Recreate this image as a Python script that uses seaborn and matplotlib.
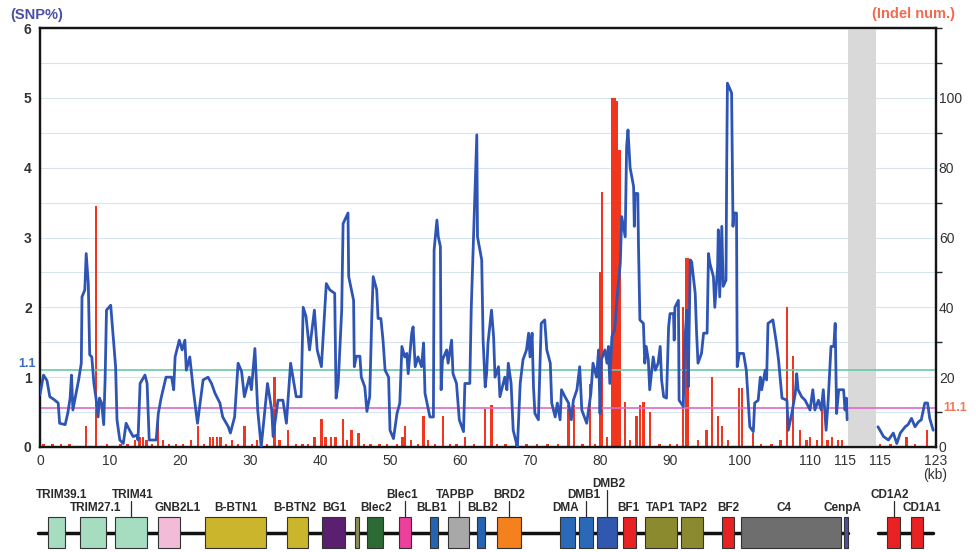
import numpy as np
import pandas as pd
import matplotlib
matplotlib.use("Agg")
import matplotlib.pyplot as plt
from matplotlib.ticker import MultipleLocator
import seaborn as sns

# positions are on the drawn axis (kb); a gap of 5 is put in after 115 kb
snp_pos_a = [0.0, 0.5, 1.0, 1.4, 2.0, 2.6, 2.8, 3.6, 4.0, 4.3, 4.5, 4.7, 5.5, 5.9, 6.0, 6.4, 6.6, 6.9,
             7.1, 7.4, 7.7, 8.0, 8.3, 8.5, 8.8, 9.1, 9.3, 9.5, 10.1, 10.8, 11.0, 11.4, 11.9, 12.3,
             12.8, 13.3, 13.9, 14.0, 14.3, 15.0, 15.3, 15.6, 16.6, 16.9, 17.3, 18.0, 18.8, 19.1,
             19.3, 19.9, 20.3, 20.7, 20.9, 21.4, 21.9, 22.5, 23.3, 24.0, 24.5, 25.0, 25.7, 26.1,
             26.9, 27.2, 27.8, 28.3, 28.8, 29.2, 29.9, 30.2, 30.7, 31.1, 31.6, 32.5, 33.1, 33.3,
             34.0, 34.7, 35.2, 35.8, 36.6, 37.3, 37.6, 38.0, 38.5, 39.2, 39.6, 40.2, 40.9, 41.4,
             42.1, 42.3, 42.6, 43.1, 43.3, 44.0, 44.1, 44.8, 44.9, 45.2, 45.7, 45.9, 46.4, 46.7,
             47.1, 47.4, 47.6, 48.1, 48.3, 48.7, 49.0, 49.3, 49.8, 50.0, 50.5, 51.0, 51.4, 51.7,
             52.1, 52.4, 52.6, 53.1, 53.3, 53.6, 54.0, 54.5, 54.8, 55.0, 55.7, 56.2, 56.3, 56.7,
             56.9, 57.2, 57.3, 57.5, 58.1, 58.3, 58.8, 59.0, 59.5, 59.9, 60.5, 60.7, 61.4, 61.6,
             61.9, 62.4, 62.5, 63.1, 63.3, 63.6, 63.8, 64.0, 64.5, 64.8, 65.0, 65.5, 65.7, 66.4,
             66.7, 66.9, 67.3, 67.6, 68.2, 68.6, 69.0, 69.5, 69.8, 70.0, 70.3, 70.5, 70.7, 71.2,
             71.6, 72.1, 72.4, 72.9, 73.1, 73.6, 73.9, 74.3, 74.5, 75.0, 75.5, 75.9, 76.2, 76.7,
             77.1, 77.4, 78.1, 78.7, 79.0, 79.5, 79.8, 80.0, 80.2, 80.7, 81.0, 81.2, 81.4, 81.7,
             82.1, 82.4, 82.9, 83.1, 83.6, 83.8, 84.0, 84.3, 84.8, 84.9, 85.0, 85.4, 85.5, 85.7,
             86.2, 86.4, 86.6, 86.9, 87.1, 87.6, 87.9, 88.3, 88.6, 88.8, 89.1, 89.5, 89.8, 90.0,
             90.5, 90.6, 90.7, 91.2, 91.3, 91.9, 92.1, 92.4, 92.6, 92.9, 93.1, 93.6, 93.8, 94.0,
             94.5, 94.8, 95.3, 95.5, 95.7, 96.2, 96.4, 96.8, 96.9, 97.1, 97.4, 97.6, 98.0, 98.1,
             98.2, 98.8, 99.0, 99.1, 99.5, 99.6, 99.9, 100.5, 100.9, 101.4, 101.9, 102.1, 102.6,
             102.9, 103.1, 103.6, 103.8, 104.0, 104.7, 105.2, 105.5, 106.0, 106.7, 106.9, 107.4,
             107.9, 108.1, 108.3, 108.8, 109.3, 110.0, 110.4, 110.7, 111.2, 111.6, 111.9, 112.3,
             112.6, 113.0, 113.4, 113.6, 113.8, 114.1, 114.8, 115.0, 115.2, 115.3]
snp_val_a = [0.75, 1.03, 0.95, 0.72, 0.68, 0.63, 0.34, 0.32, 0.50, 0.70, 1.03, 0.53, 0.95, 1.20, 2.15, 2.25, 2.77, 2.34,
             1.32, 1.29, 0.91, 0.70, 0.43, 0.70, 0.63, 0.32, 0.96, 1.96, 2.03, 1.15, 0.39, 0.10, 0.05, 0.34,
             0.24, 0.15, 0.17, 0.10, 0.91, 1.03, 0.91, 0.10, 0.10, 0.48, 0.70, 1.00, 1.00, 0.82,
             1.29, 1.53, 1.39, 1.53, 1.10, 1.29, 0.82, 0.34, 0.96, 1.00, 0.91, 0.77, 0.63, 0.43,
             0.29, 0.20, 0.43, 1.20, 1.08, 0.72, 1.00, 0.82, 1.41, 0.53, 0.00, 0.91, 0.53, 0.15,
             0.67, 0.67, 0.34, 1.20, 0.72, 0.72, 2.00, 1.87, 1.39, 1.96, 1.39, 1.15, 2.34, 2.25,
             2.20, 0.70, 0.91, 1.96, 3.20, 3.35, 2.44, 2.10, 1.15, 1.30, 1.30, 1.00, 0.86, 0.51,
             0.72, 1.87, 2.44, 2.25, 1.84, 1.84, 1.53, 1.10, 1.00, 0.24, 0.12, 0.48, 0.63, 1.44,
             1.29, 1.34, 1.05, 1.63, 1.72, 1.15, 1.29, 1.15, 1.49, 0.77, 0.43, 0.43, 2.82, 3.25,
             3.01, 2.87, 0.82, 1.25, 1.39, 1.20, 1.53, 1.05, 0.91, 0.39, 0.22, 0.91, 0.91, 1.96,
             2.92, 4.47, 3.01, 2.68, 1.53, 0.86, 1.05, 1.49, 1.96, 1.58, 1.00, 1.15, 0.72, 1.00,
             0.82, 1.20, 0.91, 0.24, 0.00, 0.91, 1.25, 1.39, 1.63, 1.29, 1.63, 0.86, 0.48, 0.39,
             1.77, 1.82, 1.39, 1.20, 0.63, 0.43, 0.63, 0.39, 0.82, 0.72, 0.63, 0.39, 0.67, 0.82,
             1.15, 0.53, 0.34, 0.77, 1.20, 1.00, 1.39, 0.48, 1.25, 1.39, 1.20, 1.44, 0.91, 1.58,
             1.68, 2.10, 2.63, 3.30, 3.01, 4.30, 4.54, 4.00, 3.73, 3.16, 3.63, 3.63, 2.87, 1.82,
             1.77, 1.20, 1.44, 1.25, 0.82, 1.29, 1.10, 1.20, 1.44, 0.96, 0.72, 0.70, 1.72, 1.91,
             1.91, 1.53, 2.00, 2.10, 0.67, 0.58, 1.49, 1.96, 0.86, 2.68, 2.65, 2.20, 1.63, 1.20,
             1.34, 1.63, 1.63, 2.77, 2.63, 2.44, 2.00, 2.58, 3.11, 2.15, 3.16, 2.30, 2.39, 4.02,
             5.21, 5.07, 3.16, 3.35, 3.35, 1.15, 1.34, 1.34, 1.10, 0.29, 0.22, 0.63, 0.67,
             1.00, 0.82, 1.10, 0.96, 1.77, 1.82, 1.49, 1.25, 0.70, 0.67, 0.24, 0.48,
             0.77, 1.05, 0.82, 0.72, 0.67, 0.53, 0.82, 0.53, 0.67, 0.53, 0.82, 0.24,
             0.67, 1.44, 1.44, 1.77, 0.48, 0.82, 0.82, 0.53, 0.70, 0.39]
snp_pos_b = [119.7, 120.0, 120.5, 121.2, 121.9, 122.4, 122.9, 123.6, 124.0, 124.5, 125.0, 125.5,
             125.9, 126.4, 126.8, 127.1, 127.6]
snp_val_b = [0.29, 0.24, 0.15, 0.10, 0.20, 0.05, 0.20, 0.29, 0.32, 0.41, 0.29, 0.36,
             0.39, 0.63, 0.63, 0.41, 0.24]

indel_pos = [0.5, 1.8, 3.0, 4.2, 6.6, 8.05, 9.6, 11.5, 12.5, 13.6, 14.2, 14.7, 15.2, 16.0, 16.9, 17.6,
             18.4, 19.4, 20.4, 21.6, 22.6, 23.4, 24.3, 24.7, 25.3, 25.8, 26.6, 27.4, 28.3, 29.2, 30.3,
             31.0, 32.4, 33.5, 34.2, 35.4, 36.6, 37.5, 38.3, 39.2, 40.2, 40.8, 41.6, 42.2, 43.3, 43.9,
             44.5, 45.5, 46.3, 47.2, 48.5, 49.6, 51.0, 51.8, 52.1, 53.0, 54.0, 54.8, 55.4, 56.4, 57.6,
             58.6, 59.5, 60.7, 62.0, 63.6, 64.5, 65.3, 66.5, 68.0, 69.5, 71.0, 72.5, 74.0, 75.5, 76.3,
             77.5, 78.6, 79.3, 80.0, 80.3, 81.0, 81.8, 82.1, 82.4, 82.8, 83.6, 84.3, 85.2, 85.7, 86.2,
             87.1, 88.5, 90.0, 91.0, 91.9, 92.3, 92.6, 94.0, 95.2, 96.0, 96.9, 97.4, 98.3, 99.9,
             100.3, 101.9, 103.0, 104.5, 105.8, 106.7, 107.6, 108.6, 109.5, 110.0, 111.0,
             111.7, 112.5, 113.1, 114.0, 114.6, 120.0, 121.5, 123.8, 125.0, 126.7]
indel_num = [1, 1, 1, 1, 6, 69, 1, 1, 1, 2, 3, 3, 2, 1, 7, 2,
             1, 1, 1, 2, 6, 1, 3, 3, 3, 3, 1, 2, 1, 6, 1,
             2, 1, 20, 2, 5, 1, 1, 1, 3, 8, 3, 3, 3, 8, 2,
             5, 4, 1, 1, 1, 1, 1, 3, 6, 2, 1, 9, 2, 1, 9,
             1, 1, 3, 1, 11, 12, 1, 1, 1, 1, 1, 1, 1, 12, 12,
             1, 18, 1, 50, 73, 3, 100, 100, 99, 85, 13, 2, 9, 12, 13,
             10, 1, 1, 1, 40, 54, 54, 2, 5, 20, 9, 6, 2, 17,
             17, 4, 1, 1, 2, 40, 26, 5, 2, 3, 2,
             11, 2, 3, 2, 2, 1, 1, 3, 1, 5]

gene_names = ["TRIM39.1", "TRIM27.1", "TRIM41", "GNB2L1", "B-BTN1", "B-BTN2", "BG1", "",
              "Blec2", "Blec1", "BLB1", "TAPBP", "BLB2", "BRD2", "DMA", "DMB1", "DMB2",
              "BF1", "TAP1", "TAP2", "BF2", "C4", "CenpA", "CD1A2", "CD1A1"]
gene_start = [1.1, 5.7, 10.7, 16.8, 23.6, 35.3, 40.3, 45.0, 46.7, 51.3, 55.7, 58.3, 62.4, 65.3,
              74.3, 77.0, 79.6, 83.3, 86.4, 91.6, 97.4, 100.1, 114.9, 121.0, 124.4]
gene_end = [3.6, 9.4, 15.3, 20.0, 32.3, 38.3, 43.6, 45.6, 49.0, 53.0, 56.9, 61.3, 63.6, 68.7,
            76.4, 79.0, 82.4, 85.1, 91.0, 94.7, 99.1, 114.4, 115.4, 122.9, 126.1]
gene_colors = ["#a6dcc0", "#a6dcc0", "#a6dcc0", "#f2bcd8", "#cbb52c", "#cbb52c", "#5a1f6e",
               "#8c8c5a", "#2b6a34", "#ee3f9c", "#2563b3", "#a8a8a8", "#2563b3", "#f4801e",
               "#2a68b8", "#2a68b8", "#3158b0", "#e82222", "#8c8a2e", "#8c8a2e", "#e82222",
               "#6e6e6e", "#5050a0", "#e82222", "#e82222"]
label_x = [3.1, 7.9, 13.3, 19.7, 28.0, 36.4, 42.1, 0, 48.0, 51.7, 55.9, 59.3, 63.2, 67.0,
           75.1, 77.7, 81.3, 84.1, 88.6, 93.4, 98.3, 106.3, 114.6, 121.4, 126.0]
label_row = [1, 0, 1, 0, 0, 0, 0, 0, 0, 1, 0, 1, 0, 1, 0, 1, 2, 0, 0, 0, 0, 0, 0, 1, 0]
label_tick = [0, 0, 1, 0, 0, 0, 0, 0, 0, 1, 0, 1, 0, 1, 0, 1, 1, 0, 0, 0, 0, 0, 0, 1, 0]

xtick_pos = [0, 10, 20, 30, 40, 50, 60, 70, 80, 90, 100, 110, 115, 120, 128]
xtick_lab = ["0", "10", "20", "30", "40", "50", "60", "70", "80", "90", "100", "110", "115", "115", "123"]

sns.set_theme(style="white")
plt.rcParams["font.family"] = ["Liberation Sans", "DejaVu Sans"]

W, H = 976, 552
fig = plt.figure(figsize=(W / 100, H / 100), dpi=100)
L, R, T, B = 40, 936, 28, 447
ax2 = fig.add_axes([L / W, 1 - B / H, (R - L) / W, (B - T) / H])
ax = ax2.twinx()
ax.yaxis.tick_left()
ax.yaxis.set_label_position("left")
ax2.yaxis.tick_right()
ax.set_zorder(ax2.get_zorder() + 1)
ax.patch.set_visible(False)

# indel bars (right axis)
ax2.set_ylim(0, 120)
ax2.set_xlim(0, 128)
ax2.yaxis.set_major_locator(MultipleLocator(20))
ax2.yaxis.set_minor_locator(MultipleLocator(10))
ax2.grid(which="both", axis="y", color="#d6e6f0", lw=0.8)
ax2.set_axisbelow(True)
ax2.bar(indel_pos, indel_num, width=0.32, color="#f0361f", linewidth=0, zorder=2)
ax2.set_yticks([0, 20, 40, 60, 80, 100])
ax2.tick_params(axis="y", length=0, pad=2, labelsize=10, labelcolor="#333333")
ax2.tick_params(axis="x", length=0, pad=5, labelsize=10, labelcolor="#333333")
ax2.set_xticks(xtick_pos)
ax2.set_xticklabels(xtick_lab)

# SNP% line (left axis)
ax.axvspan(115.4, 119.4, color="#d9d9d9", lw=0, zorder=1)
ax.axhline(1.1, color="#66c9a6", lw=1.2, zorder=2)
ax.axhline(11.1 / 20, color="#e06ac6", lw=1.2, zorder=2)
sns.lineplot(x=snp_pos_a, y=snp_val_a, ax=ax, color="#2f55b4", lw=2.0,
             estimator=None, sort=False, zorder=3)
sns.lineplot(x=snp_pos_b, y=snp_val_b, ax=ax, color="#2f55b4", lw=2.0,
             estimator=None, sort=False, zorder=3)
ax.set_xlim(0, 128)
ax.set_ylim(0, 6)
ax.set_yticks(range(7))
ax.tick_params(axis="y", length=0, pad=6, labelsize=10, labelcolor="#333333")
for lab in ax.get_yticklabels():
    lab.set_fontweight("bold")
ax.set_xlabel("")
ax.set_ylabel("")

for a in (ax, ax2):
    for s in a.spines.values():
        s.set_color("#151515")
        s.set_linewidth(1.6)

fig.text(37 / W, 1 - 15 / H, "(SNP%)", color="#4b4fa8", fontsize=10.5, fontweight="bold",
         ha="center", va="center")
fig.text(914 / W, 1 - 14 / H, "(Indel num.)", color="#f26b4f", fontsize=10.5, fontweight="bold",
         ha="center", va="center")
fig.text(27 / W, 1 - 364 / H, "1.1", color="#3c6cc0", fontsize=9, fontweight="bold",
         ha="center", va="center")
fig.text(955 / W, 1 - 408 / H, "11.1", color="#f07a5a", fontsize=9, fontweight="bold",
         ha="center", va="center")
fig.text(935 / W, 1 - 475 / H, "(kb)", color="#333333", fontsize=10, ha="center", va="center")

# gene track
gax = fig.add_axes([L / W, 0, (R - L) / W, 87 / H])
gax.set_xlim(0, 128)
gax.set_ylim(0, 87)
gax.axis("off")
gax.plot([-0.3, 115.4], [19, 19], color="#111111", lw=2.5, zorder=1, clip_on=False)
gax.plot([119.7, 127.6], [19, 19], color="#111111", lw=2.5, zorder=1, clip_on=False)
gene_w = [e - s for s, e in zip(gene_start, gene_end)]
gax.bar(gene_start, [31] * len(gene_start), width=gene_w, bottom=4, align="edge",
        color=gene_colors, edgecolor="#333333", linewidth=0.8, zorder=2)
row_y = [44, 57, 68]
for name, s, e, lx, row, tk in zip(gene_names, gene_start, gene_end, label_x, label_row, label_tick):
    if not name:
        continue
    gax.text(lx, row_y[row], name, ha="center", va="center", fontsize=8.5,
             fontweight="bold", color="#2a2a2a")
    if tk:
        cx = (s + e) / 2
        gax.plot([cx, cx], [row_y[row] - 6, 35], color="#2a2a2a", lw=0.9, zorder=1)

fig.savefig("out.png", dpi=100)
